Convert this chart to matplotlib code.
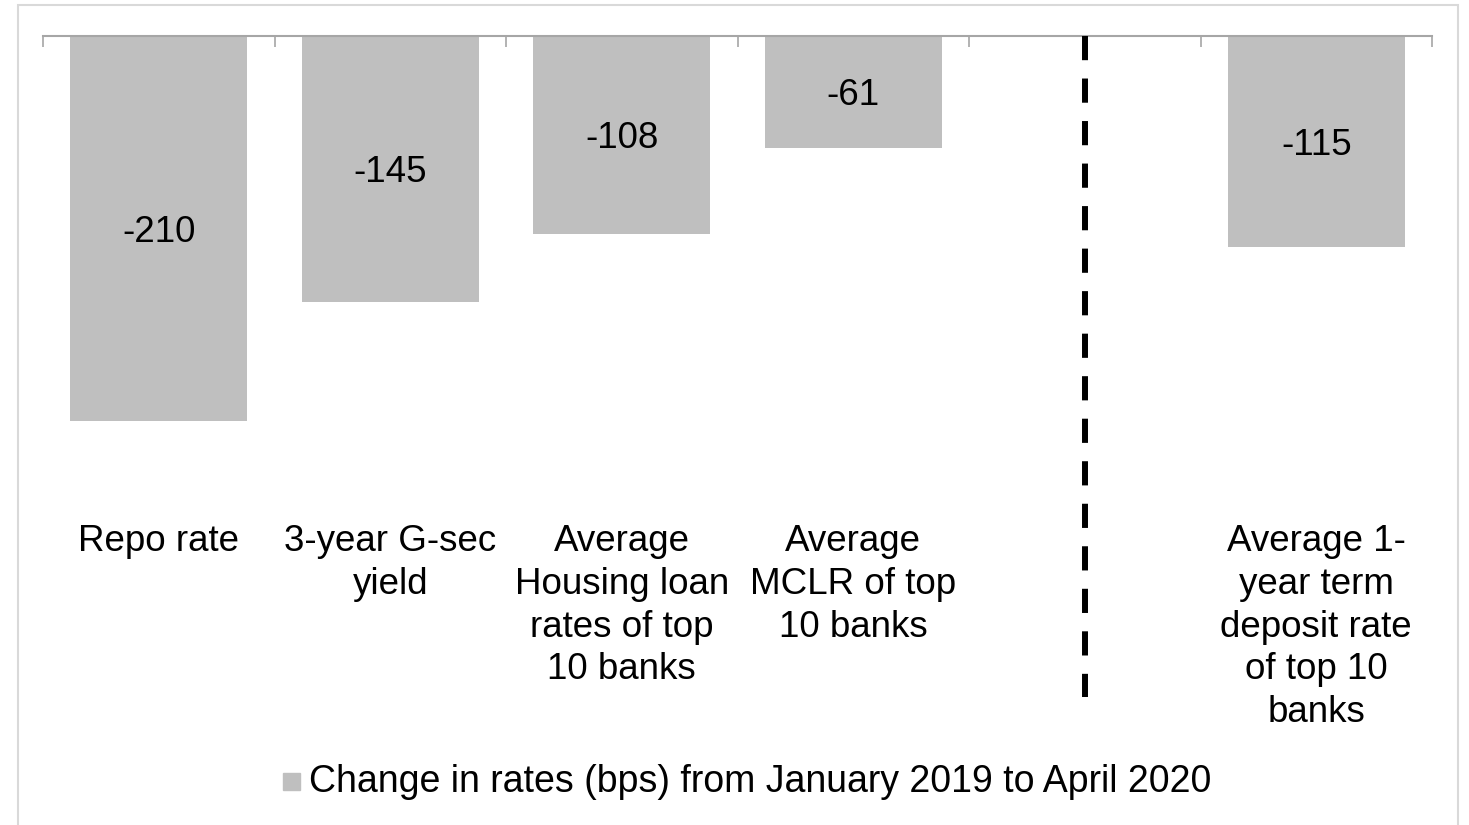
import numpy as np
import matplotlib
matplotlib.use("Agg")
import matplotlib.pyplot as plt
from matplotlib.patches import Rectangle

plt.rcParams['font.family'] = ['Liberation Sans', 'DejaVu Sans']

# datos
categories = ["Repo rate", "3-year G-sec\nyield", "Average\nHousing loan\nrates of top\n10 banks",
              "Average\nMCLR of top\n10 banks", "", "Average 1-\nyear term\ndeposit rate\nof top 10\nbanks"]
values = [-210, -145, -108, -61, np.nan, -115]
series_name = "Change in rates (bps) from January 2019 to April 2020"

W, H = 1469, 825
fig = plt.figure(figsize=(W / 100, H / 100), dpi=100)

# borde exterior (sin borde inferior visible)
fig.patches.append(Rectangle((18 / W, -0.01), (1458 - 18) / W, 1 - 5 / H + 0.01,
                             transform=fig.transFigure, fill=False,
                             edgecolor="#d9d9d9", linewidth=1.5))

ax = fig.add_axes([43 / W, 1 - 494 / H, (1432 - 43) / W, (494 - 36) / H])
x = np.arange(len(categories))
ax.bar(x, values, width=0.765, color="#bfbfbf", zorder=2)

FS = 26.5
for xi, v in zip(x, values):
    if not np.isnan(v):
        ax.text(xi, v / 2, str(int(v)), ha="center", va="center_baseline",
                fontsize=FS, color="black")

ax.set_xlim(-0.5, len(categories) - 0.5)
ax.set_ylim(-250, 0)

for s in ["left", "right", "bottom"]:
    ax.spines[s].set_visible(False)
ax.spines["top"].set_color("#a6a6a6")
ax.spines["top"].set_linewidth(1.5)
ax.set_yticks([])
ax.xaxis.tick_top()
ax.set_xticks(np.arange(-0.5, len(categories), 1.0))
ax.set_xticklabels([])
ax.tick_params(axis="x", direction="in", length=8, width=1.2, color="#a6a6a6")

# etiquetas de categorias
trans = ax.get_xaxis_transform()
for xi, lab in zip(x, categories):
    ax.text(xi, (494 - 524) / (494 - 36), lab, transform=trans, ha="center", va="top",
            fontsize=FS, linespacing=1.29, clip_on=False)

# linea discontinua
ax.plot([4, 4], [0, -361], color="black", linewidth=4.3, linestyle=(0, (4.05, 3.07)),
        clip_on=False, zorder=3, solid_capstyle="butt", dash_capstyle="butt")

# leyenda
fig.patches.append(Rectangle((283 / W, 1 - 790 / H), 17 / W, 17 / H,
                             transform=fig.transFigure, color="#bfbfbf"))
fig.text(309 / W, 1 - 782 / H, series_name, ha="left", va="center", fontsize=27)

fig.savefig("out.png", dpi=100)
